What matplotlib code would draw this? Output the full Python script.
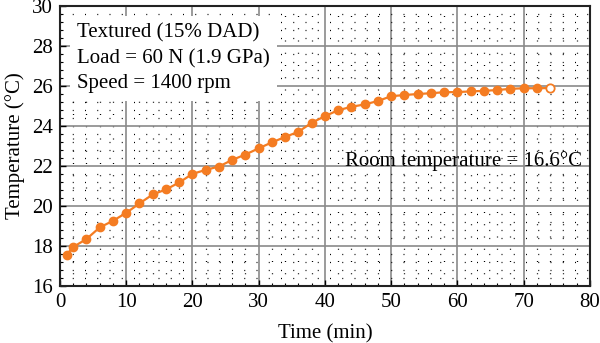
import numpy as np
import matplotlib
matplotlib.use("Agg")
import matplotlib.pyplot as plt
from matplotlib.ticker import MultipleLocator

plt.rcParams['font.family'] = ['Liberation Serif', 'DejaVu Serif']
plt.rcParams['mathtext.fontset'] = 'stix'

# temperature rise over the run (one reading every 2 min)
time_min = [1, 2, 4, 6, 8, 10, 12, 14, 16, 18, 20, 22, 24, 26, 28, 30, 32, 34, 36,
            38, 40, 42, 44, 46, 48, 50, 52, 54, 56, 58, 60, 62, 64, 66, 68, 70, 72]
temp_c = [17.55, 17.94, 18.34, 18.92, 19.25, 19.65, 20.12, 20.57, 20.82, 21.17,
          21.60, 21.80, 21.97, 22.30, 22.57, 22.88, 23.18, 23.45, 23.71, 24.16,
          24.49, 24.79, 24.96, 25.08, 25.25, 25.49, 25.55, 25.60, 25.64, 25.69,
          25.70, 25.73, 25.76, 25.80, 25.86, 25.89, 25.89]
# last reading (steady state), drawn hollow
end_time = [74]
end_temp = [25.90]

info_lines = ["Textured (15% DAD)", "Load = 60 N (1.9 GPa)", "Speed = 1400 rpm"]
room_note = "Room temperature = 16.6°C"

orange = '#f47c22'
fs = 15

fig = plt.figure(figsize=(6.0, 3.43), dpi=100)
ax = fig.add_axes([0.100, 0.167, 0.883, 0.815])

ax.set_xlim(0, 80)
ax.set_ylim(16, 30)
ax.xaxis.set_major_locator(MultipleLocator(10))
ax.xaxis.set_minor_locator(MultipleLocator(2))
ax.yaxis.set_major_locator(MultipleLocator(2))
ax.yaxis.set_minor_locator(MultipleLocator(0.4))

ax.grid(which='major', color='#8a8a8a', linewidth=1.2)
ax.grid(which='minor', color='black', linewidth=0.9, linestyle=(0, (0.8, 9)))
ax.set_axisbelow(True)

for s in ax.spines.values():
    s.set_linewidth(1.5)
    s.set_color('#222222')

ax.tick_params(which='both', direction='in', labelsize=fs, pad=5)
ax.tick_params(which='major', length=4, width=1.0)
ax.tick_params(which='minor', length=2, width=0.8)

ax.plot(time_min + end_time, temp_c + end_temp, color=orange, linewidth=1.6, zorder=3)
ax.plot(time_min, temp_c, 'o', color=orange, markersize=6, zorder=4)
ax.plot(end_time, end_temp, 'o', markerfacecolor='white', markeredgecolor=orange,
        markeredgewidth=1.3, markersize=6, zorder=4)

ax.set_xlabel("Time (min)", fontsize=fs, labelpad=9)
ax.set_ylabel("Temperature (°C)", fontsize=fs, labelpad=5)

# white panel behind the run conditions
ax.text(2.6, 29.15, "\n".join(info_lines), fontsize=fs, va='top', ha='left',
        linespacing=1.45, zorder=5,
        bbox=dict(boxstyle='square,pad=0.35', facecolor='white', edgecolor='none'))

ax.text(78.8, 22.25, room_note, fontsize=fs, ha='right', va='center', zorder=5)

fig.savefig("out.png", dpi=100)
